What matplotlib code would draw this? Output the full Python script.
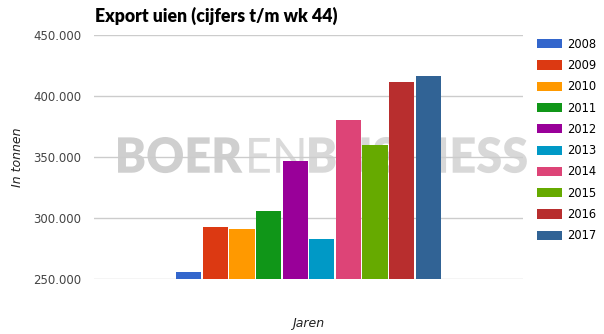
import matplotlib.pyplot as plt
from matplotlib.patches import Patch, PathPatch
from matplotlib.textpath import TextPath
from matplotlib.font_manager import FontProperties
from matplotlib.path import Path
from matplotlib.transforms import Affine2D
from matplotlib.ticker import FuncFormatter

# data
jaren = ['2008', '2009', '2010', '2011', '2012', '2013', '2014', '2015', '2016', '2017']
export = [255700, 292600, 291000, 305700, 346700, 282800, 380300, 359800, 411500, 416400]
kleuren = ['#3366cc', '#dc3912', '#ff9900', '#109618', '#990099',
           '#0099c6', '#dd4477', '#66aa00', '#b82e2e', '#316395']
yticks = [250000, 300000, 350000, 400000, 450000]

fig = plt.figure(figsize=(6.04, 3.34), dpi=100)
ax = fig.add_axes([94/604, 55/334, 429/604, 244/334])

# bars: one category, one bar per year
for i, (j, v, c) in enumerate(zip(jaren, export, kleuren)):
    ax.bar(i, v - 250000, bottom=250000, width=0.95, color=c, zorder=3)

ax.set_xlim(-3.56, 12.56)
ax.set_ylim(250000, 450000)
ax.set_yticks(yticks)
ax.yaxis.set_major_formatter(FuncFormatter(lambda v, p: f'{int(v):,}'.replace(',', '.')))
ax.set_xticks([])
ax.tick_params(axis='y', length=0, pad=9, labelsize=8.5, labelcolor='#444444')
for s in ax.spines.values():
    s.set_visible(False)
ax.grid(axis='y', color='#cccccc', linewidth=1, zorder=1.5)
ax.set_axisbelow(False)

# watermark: text paths stretched to the box of the original logo
stukken = [('BOER', 'heavy', '#cfcfcf'), ('EN', 'normal', '#dadada'), ('BUSINESS', 'heavy', '#d8d8d8')]
paden = []
x = 0
for tekst, gewicht, kleur in stukken:
    tp = TextPath((x, 0), tekst, size=10, prop=FontProperties(family='Lato', weight=gewicht))
    paden.append((tp, kleur))
    x = tp.get_extents().x1 + 0.5
alles = Path.make_compound_path(*[p for p, k in paden]).get_extents()
x0, x1 = 0.056, 1.009
y0, y1 = 0.434, 0.582
schaal = Affine2D().translate(-alles.x0, -alles.y0).scale(
    (x1 - x0) / alles.width, (y1 - y0) / alles.height).translate(x0, y0)
for p, k in paden:
    ax.add_patch(PathPatch(p, transform=schaal + ax.transAxes, facecolor=k,
                           edgecolor='none', zorder=1, clip_on=False))

ax.set_ylabel('In tonnen', fontstyle='italic', fontsize=9, color='#222222', labelpad=7)
ax.set_xlabel('Jaren', fontstyle='italic', fontsize=9, color='#222222', labelpad=27)

fig.text(95/604, (334 - 22)/334, 'Export uien (cijfers t/m wk 44)', fontsize=12.7,
         fontweight='heavy', va='baseline', ha='left', family=['Lato', 'DejaVu Sans'])

handles = [Patch(facecolor=c, edgecolor='none') for c in kleuren]
ax.legend(handles, jaren, loc='upper left', bbox_to_anchor=(532/604, (334 - 33)/334),
          bbox_transform=fig.transFigure, frameon=False, fontsize=8.3,
          handlelength=2.2, handleheight=0.85, labelspacing=0.72, handletextpad=0.45,
          borderaxespad=0)

fig.savefig('out.png', dpi=100)
